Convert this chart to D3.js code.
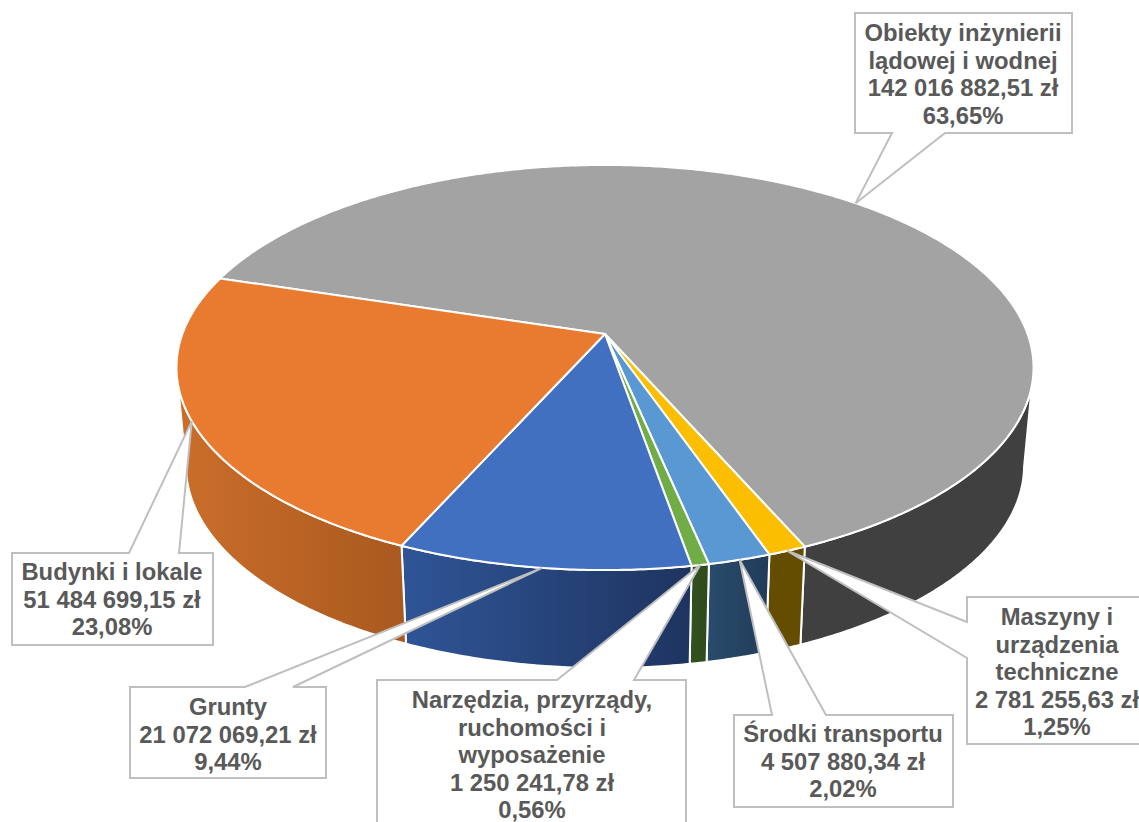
<!DOCTYPE html>
<html>
<head>
<meta charset="utf-8">
<script src="https://cdn.jsdelivr.net/npm/d3@7"></script>
<style>
body { margin: 0; background: #fff; }
svg { display: block; overflow: hidden; }
text { font-family: "Liberation Sans", Arial, sans-serif; font-weight: bold; font-size: 23.8px; fill: #595959; text-anchor: middle; }
</style>
</head>
<body>
<svg></svg>
<script>
// slices in drawing order, clockwise from the first slice angle
var names = [
    ["Obiekty inżynierii", "lądowej i wodnej"],
    ["Maszyny i", "urządzenia", "techniczne"],
    ["Środki transportu"],
    ["Narzędzia, przyrządy,", "ruchomości i", "wyposażenie"],
    ["Grunty"],
    ["Budynki i lokale"]
];
var values = [142016882.51, 2781255.63, 4507880.34, 1250241.78, 21072069.21, 51484699.15];
var amounts = ["142 016 882,51 zł", "2 781 255,63 zł", "4 507 880,34 zł", "1 250 241,78 zł", "21 072 069,21 zł", "51 484 699,15 zł"];
var percents = ["63,65%", "1,25%", "2,02%", "0,56%", "9,44%", "23,08%"];

var topColors = ["#a3a3a3", "#fbbe00", "#5a98d4", "#70ad47", "#4270c0", "#e97b30"];
var wallLeft = ["#404040", "#644d00", "#2a4c6c", "#33521f", "#2f5597", "#cb6e2b"];
var wallRight = ["#404040", "#644d00", "#213b59", "#2e4a1c", "#1e3460", "#a9591f"];

// callout boxes: box edges, the side the pointer leaves from, pointer base, text centre, first baseline
var callouts = [
    {x0: 855, x1: 1072, y0: 13, y1: 133, side: "bottom", a: 892, b: 945, cx: 963, y: 41},
    {x0: 967, x1: 1150, y0: 597, y1: 744, side: "left", a: 622, b: 658, cx: 1057, y: 625},
    {x0: 734, x1: 953, y0: 715, y1: 807, side: "top", a: 772, b: 826, cx: 843, y: 742},
    {x0: 377, x1: 686, y0: 680, y1: 835, side: "top", a: 557, b: 634, cx: 532, y: 708},
    {x0: 130, x1: 326, y0: 687, y1: 778, side: "top", a: 245, b: 293, cx: 228, y: 715},
    {x0: 12, x1: 213, y0: 553, y1: 645, side: "top", a: 129, b: 179, cx: 112, y: 580}
];

var width = 1139,
    height = 822,
    lineHeight = 27.5;

// perspective disc: centre of the pie, radius, tilt and strength of the perspective
var cx = 605,
    topY = 334,
    bottomY = 432,
    radius = 422.6,
    tilt = 197,
    persp = 0.1654,
    bottomShrink = 0.978;

var rad = Math.PI / 180;
var firstAngle = -72.8 * rad;
// the wall is seen between the two tangent points of the disc
var wallFrom = 100 * rad, wallTo = 260 * rad;

var svg = d3.select("svg").attr("width", width).attr("height", height);
var defs = svg.append("defs");

var pie = d3.pie().sort(null)
    .startAngle(firstAngle)
    .endAngle(firstAngle + 2 * Math.PI);
var slices = pie(values);

function project(angle, y0, shrink) {
    var u = Math.sin(angle), v = -Math.cos(angle);
    var w = 1 / (1 - persp * v);
    return [cx + radius * shrink * u * w, y0 + tilt * v * w];
}
function rimTop(a) { return project(a, topY, 1); }
function rimBottom(a) { return project(a, bottomY, bottomShrink); }

function arcAngles(a0, a1) {
    var n = Math.max(2, Math.ceil((a1 - a0) / (0.5 * rad)));
    return d3.range(n + 1).map(function(i) { return a0 + (a1 - a0) * i / n; });
}

var line = d3.line();

// side wall, only the part facing the viewer
var walls = svg.append("g");
slices.forEach(function(d, i) {
    // the first slice also wraps over the back, keep its front part
    var a0 = Math.max(d.startAngle, wallFrom), a1 = Math.min(d.endAngle, wallTo);
    if (a1 <= a0) return;
    var angles = arcAngles(a0, a1);
    var pts = angles.map(rimTop).concat(angles.slice().reverse().map(rimBottom));
    var xs = d3.extent(pts, function(p) { return p[0]; });
    var gradient = defs.append("linearGradient")
        .attr("id", "wall" + i)
        .attr("gradientUnits", "userSpaceOnUse")
        .attr("x1", xs[0]).attr("x2", xs[1])
        .attr("y1", 0).attr("y2", 0);
    gradient.append("stop").attr("offset", 0).attr("stop-color", wallLeft[i]);
    gradient.append("stop").attr("offset", 1).attr("stop-color", wallRight[i]);
    walls.append("path")
        .attr("d", line(pts) + "Z")
        .attr("fill", "url(#wall" + i + ")")
        .attr("stroke", "#fff")
        .attr("stroke-width", 2)
        .attr("stroke-linejoin", "round");
});

// top face
svg.append("g").selectAll("path")
    .data(slices)
    .join("path")
    .attr("d", function(d) {
        return line([[cx, topY]].concat(arcAngles(d.startAngle, d.endAngle).map(rimTop))) + "Z";
    })
    .attr("fill", function(d, i) { return topColors[i]; })
    .attr("stroke", "#fff")
    .attr("stroke-width", 2)
    .attr("stroke-linejoin", "round");

// callouts, the pointer ends on the rim at the middle of the slice
function calloutPath(c, tip) {
    var pts;
    if (c.side == "bottom") {
        pts = [[c.x0, c.y0], [c.x1, c.y0], [c.x1, c.y1], [c.b, c.y1], tip, [c.a, c.y1], [c.x0, c.y1]];
    } else if (c.side == "left") {
        pts = [[c.x0, c.y0], [c.x1, c.y0], [c.x1, c.y1], [c.x0, c.y1], [c.x0, c.b], tip, [c.x0, c.a]];
    } else {
        pts = [[c.x0, c.y0], [c.a, c.y0], tip, [c.b, c.y0], [c.x1, c.y0], [c.x1, c.y1], [c.x0, c.y1]];
    }
    return line(pts) + "Z";
}

var labels = svg.append("g");
slices.forEach(function(d, i) {
    var c = callouts[i];
    var tip = rimTop((d.startAngle + d.endAngle) / 2);
    labels.append("path")
        .attr("d", calloutPath(c, tip))
        .attr("fill", "#fff")
        .attr("stroke", "#bfbfbf")
        .attr("stroke-width", 2)
        .attr("stroke-linejoin", "miter");
    var rows = names[i].concat([amounts[i], percents[i]]);
    labels.selectAll(null)
        .data(rows)
        .enter().append("text")
        .attr("x", c.cx)
        .attr("y", function(r, j) { return c.y + j * lineHeight; })
        .text(function(r) { return r; });
});
</script>
</body>
</html>
